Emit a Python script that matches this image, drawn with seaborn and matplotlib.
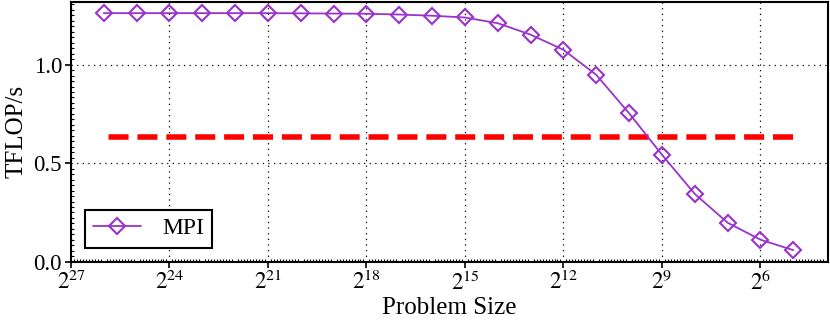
import numpy as np
import pandas as pd
import matplotlib
matplotlib.use("Agg")
import matplotlib.pyplot as plt
from matplotlib.ticker import FixedLocator, FuncFormatter, MultipleLocator, NullFormatter
import seaborn as sns

# ---- data ----
exponents = list(range(26, 4, -1))  # problem sizes 2^26 ... 2^5
tflops = [1.261, 1.261, 1.261, 1.261, 1.261, 1.261, 1.260, 1.259, 1.258, 1.254,
          1.248, 1.239, 1.210, 1.152, 1.075, 0.948, 0.753, 0.543, 0.344, 0.198,
          0.112, 0.059]
series = "MPI"
ref_exponents = [26, 5]
ref_tflops = [0.633, 0.633]
tick_exponents = [27, 24, 21, 18, 15, 12, 9, 6]
y_ticks = [0.0, 0.5, 1.0]

df = pd.DataFrame({"size": [2.0 ** e for e in exponents],
                   "tflops": tflops,
                   "series": series})
ref_df = pd.DataFrame({"size": [2.0 ** e for e in ref_exponents],
                       "tflops": ref_tflops})

sns.set_style("ticks")
plt.rcParams["font.family"] = ["Liberation Serif", "DejaVu Serif"]
plt.rcParams["mathtext.fontset"] = "stix"
plt.rcParams["text.color"] = "black"
plt.rcParams["axes.labelcolor"] = "black"
plt.rcParams["xtick.color"] = "black"
plt.rcParams["ytick.color"] = "black"

fig = plt.figure(figsize=(8.3, 3.2), dpi=100)
ax = fig.add_axes([0.0855, 0.182, 0.912, 0.812])

purple = "#9933CC"

sns.lineplot(data=ref_df, x="size", y="tflops", ax=ax, color="red",
             linewidth=4, legend=False, zorder=2)
ax.lines[-1].set_dashes((3.6, 1.6))

sns.lineplot(data=df, x="size", y="tflops", hue="series", palette=[purple],
             marker="D", markersize=8.5, markerfacecolor="none",
             markeredgecolor=purple, markeredgewidth=1.5, linewidth=1.3,
             ax=ax, zorder=3)

ax.set_xscale("log", base=2)
ax.set_xlim(2.0 ** 27, 2.0 ** 3.945)
ax.set_ylim(0, 1.318)

ax.xaxis.set_major_locator(FixedLocator([2.0 ** e for e in tick_exponents]))
ax.xaxis.set_major_formatter(FuncFormatter(lambda v, p: r"$2^{%d}$" % round(np.log2(v))))
minor_x = [2.0 ** (e + f) for e in range(3, 28) for f in np.arange(1 / 11, 1.0, 1 / 11)]
ax.xaxis.set_minor_locator(FixedLocator(minor_x))
ax.xaxis.set_minor_formatter(NullFormatter())
ax.yaxis.set_major_locator(FixedLocator(y_ticks))
ax.yaxis.set_major_formatter(FuncFormatter(lambda v, p: "%.1f" % v))
ax.yaxis.set_minor_locator(MultipleLocator(0.5 / 18))
ax.yaxis.set_minor_formatter(NullFormatter())

ax.tick_params(axis="both", which="major", direction="out", length=4.5,
               width=1.2, labelsize=16.5, colors="black", labelcolor="black", pad=2)
ax.tick_params(axis="both", which="minor", direction="in", length=2,
               width=0.8, colors="black")

ax.grid(True, which="major", linestyle=(0, (1, 3.5)), color="black",
        linewidth=0.9)

for s in ax.spines.values():
    s.set_linewidth(1.5)
    s.set_color("black")

ax.set_xlabel("Problem Size", fontsize=18, labelpad=1, color="black")
ax.set_ylabel("TFLOP/s", fontsize=18, labelpad=4, color="black")

leg = ax.legend(loc="lower left", fontsize=17, frameon=True, fancybox=False,
                edgecolor="black", framealpha=1, handlelength=2.0,
                handletextpad=0.9, borderaxespad=0.6, borderpad=0.35)
leg.get_frame().set_linewidth(1.5)
leg.set_title(None)
for t in leg.get_texts():
    t.set_color("black")

fig.savefig("out.png", dpi=100)
